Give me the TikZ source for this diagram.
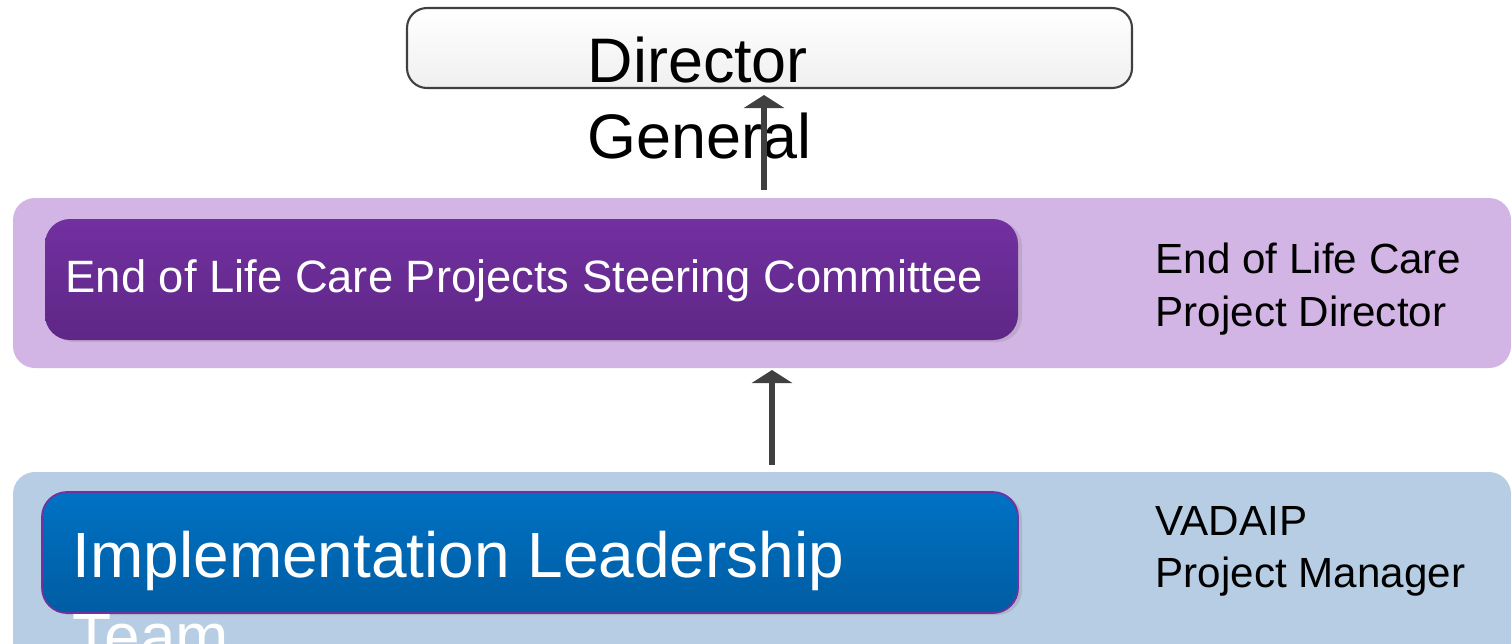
\documentclass[tikz,border=0pt]{standalone}
\usepackage{fontspec}
\setmainfont{Liberation Sans}
\usetikzlibrary{arrows.meta, shadows}

\definecolor{bandpurple}{RGB}{211,181,229}
\definecolor{bandblue}{RGB}{183,205,227}
\definecolor{boxpurpletop}{RGB}{114,48,160}
\definecolor{boxpurplebot}{RGB}{94,39,134}
\definecolor{boxbluetop}{RGB}{0,114,196}
\definecolor{boxbluebot}{RGB}{0,92,162}
\definecolor{arrowgray}{RGB}{64,64,64}

\tikzset{
    band/.style = {rectangle, rounded corners = 0.22cm, anchor = north west, inner sep = 0, outer sep = 0},
    topbox/.style = {rectangle, rounded corners = 0.2cm, anchor = north west, inner sep = 0, outer sep = 0,
        draw = arrowgray, line width = 0.6pt, top color = white, bottom color = black!6},
    unitbox/.style = {rectangle, rounded corners = 0.25cm, anchor = north west, inner sep = 0, outer sep = 0,
        drop shadow = {shadow xshift = 0.04cm, shadow yshift = -0.02cm, opacity = 0.25}},
    boxtext/.style = {anchor = base west, inner sep = 0, align = left},
    flow/.style = {-{Triangle[width = 0.40cm, length = 0.13cm]}, line width = 0.065cm, draw = arrowgray, fill = arrowgray}
}

\begin{document}
\begin{tikzpicture}
        \useasboundingbox (0, 0) rectangle (15.11, -6.43);
        \clip (0, 0) rectangle (15.11, -6.43);

        % Bands
        \node [band, fill = bandpurple, minimum width = 14.98cm, minimum height = 1.70cm] (pband) at (0.13, -1.98) {};
        \node [band, fill = bandblue, minimum width = 14.98cm, minimum height = 2.30cm] (bband) at (0.13, -4.72) {};

        % Boxes
        \node [topbox, minimum width = 7.25cm, minimum height = 0.80cm] (director) at (4.07, -0.08) {};
        \node [unitbox, top color = boxpurpletop, bottom color = boxpurplebot, minimum width = 9.73cm, minimum height = 1.21cm] (committee) at (0.45, -2.19) {};
        \node [unitbox, top color = boxbluetop, bottom color = boxbluebot, draw = boxpurpletop, line width = 0.5pt, minimum width = 9.76cm, minimum height = 1.21cm] (ilt) at (0.42, -4.92) {};

        % Texts (base = last line)
        \node [boxtext, font = \fontsize{17.9}{21.6}\selectfont] (dgtext) at (5.87, -1.58) {Director\\General};
        \node [boxtext, text = white, font = \fontsize{12.9}{15.5}\selectfont] (committeetext) at (0.65, -2.92) {End of Life Care Projects Steering Committee};
        \node [boxtext, text = white, font = \fontsize{18.2}{22.8}\selectfont] (ilttext) at (0.72, -6.58) {Implementation Leadership\\Team};
        \node [boxtext, font = \fontsize{12.0}{14.8}\selectfont] (pdirector) at (11.55, -3.26) {End of Life Care\\Project Director};
        \node [boxtext, font = \fontsize{12.0}{14.8}\selectfont] (pmanager) at (11.55, -5.87) {VADAIP\\Project Manager};

        % Edges Direction
        \draw [flow, shorten < = 0.08cm, shorten > = 0.07cm] (7.64, 0 |- pband.north) -- (7.64, 0 |- director.south);
        \draw [flow, shorten < = 0.07cm, shorten > = 0.02cm] (7.72, 0 |- bband.north) -- (7.72, 0 |- pband.south);

    \end{tikzpicture}
\end{document}
